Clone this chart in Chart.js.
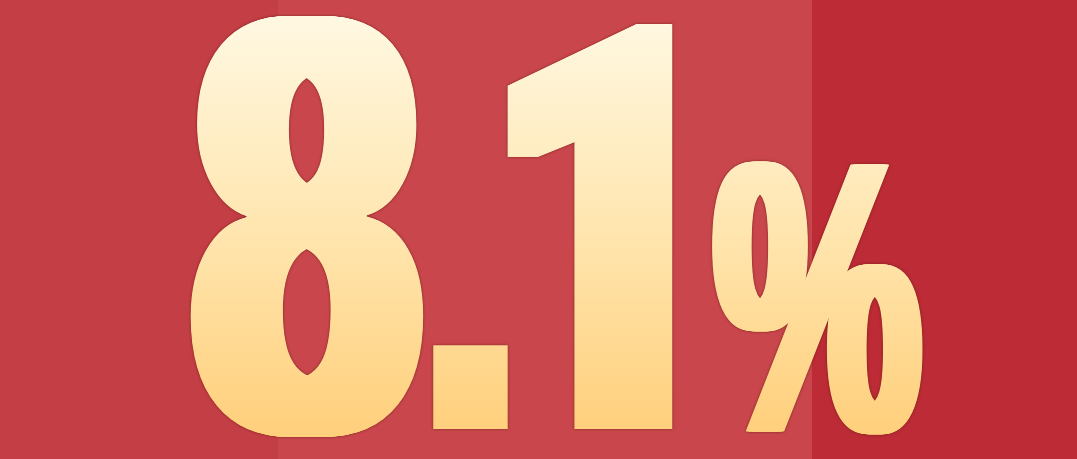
<!DOCTYPE html>
<html>
<head>
<meta charset="utf-8">
<script src="https://cdn.jsdelivr.net/npm/chart.js@4.4.1/dist/chart.umd.min.js"></script>
<style>
  html, body { margin: 0; padding: 0; background: #c23c43; }
  #wrap { width: 1077px; height: 459px; position: relative; }
</style>
</head>
<body>
<div id="wrap"><canvas id="myChart"></canvas></div>
<script>
// headline value
let values = [8.1];
let units = ['%'];

// background bands (x range on a 0..1077 scale)
let bandStarts = [0, 278, 812];
let bandEnds = [278, 812, 1077];
let bandColors = ['#c43e45', '#c9474c', '#bc2b36'];

// glyph boxes in scale units: [x0, x1, y0, y1, horizontal thickening]
let glyphBoxes = {
    '8': [190, 425, 15, 437, 36],
    '.': [432, 508, 345, 429, 0],
    '1': [507, 673, 22, 429, 30],
    '%': [711, 923, 160, 435, 15]
};
let glyphFonts = {
    '8': 'bold 200px "Liberation Sans", sans-serif',
    '.': 'bold 200px "Liberation Sans", sans-serif',
    '1': '900 200px Roboto, sans-serif',
    '%': 'bold 200px "Liberation Sans", sans-serif'
};

let bandSets = bandStarts.map(function (s, i) {
    return {
        data: [{ x: s, y: 1 }, { x: bandEnds[i], y: 1 }],
        fill: 'origin',
        backgroundColor: bandColors[i],
        borderWidth: 0,
        pointRadius: 0
    };
});

let bigText = {
    id: 'bigText',
    afterDatasetsDraw: function (chart) {
        let ctx = chart.ctx;
        let xs = chart.scales.x;
        let dpr = chart.currentDevicePixelRatio || 1;
        let text = values[0].toFixed(1) + units[0];
        let top = chart.chartArea.top;
        let h = chart.chartArea.bottom - chart.chartArea.top;
        let py = function (v) { return top + v / 459 * h; };

        let off = document.createElement('canvas');
        off.width = chart.canvas.width;
        off.height = chart.canvas.height;
        let octx = off.getContext('2d');
        octx.setTransform(dpr, 0, 0, dpr, 0, 0);
        octx.textAlign = 'left';
        octx.textBaseline = 'alphabetic';
        octx.fillStyle = '#000';

        for (let ch of text) {
            let b = glyphBoxes[ch];
            if (!b) continue;
            octx.font = glyphFonts[ch];
            let x0 = xs.getPixelForValue(b[0]);
            let x1 = xs.getPixelForValue(b[1]);
            let y0 = py(b[2]);
            let y1 = py(b[3]);
            let d = b[4];

            let m = octx.measureText(ch);
            let gw = m.actualBoundingBoxLeft + m.actualBoundingBoxRight;
            let gh = m.actualBoundingBoxAscent + m.actualBoundingBoxDescent;
            let sx = (x1 - x0 - d) / gw;
            let sy = (y1 - y0) / gh;

            let steps = Math.max(1, Math.ceil(d * 2));
            for (let k = 0; k <= steps; k++) {
                let dx = d * k / steps;
                octx.save();
                octx.translate(x0 + dx, y0);
                octx.scale(sx, sy);
                octx.fillText(ch, m.actualBoundingBoxLeft, m.actualBoundingBoxAscent);
                octx.restore();
            }
        }

        // colour the glyphs with the cream to gold gradient
        let g = octx.createLinearGradient(0, py(15), 0, py(437));
        g.addColorStop(0, '#fff8e2');
        g.addColorStop(0.5, '#ffe6b0');
        g.addColorStop(1, '#ffcf7b');
        octx.globalCompositeOperation = 'source-in';
        octx.fillStyle = g;
        octx.fillRect(0, 0, chart.width, chart.height);

        ctx.save();
        ctx.setTransform(1, 0, 0, 1, 0, 0);
        ctx.shadowColor = 'rgba(100, 25, 15, 0.7)';
        ctx.shadowBlur = 3 * dpr;
        ctx.drawImage(off, 0, 0);
        ctx.restore();
    }
};

let mychart = document.getElementById('myChart').getContext('2d');

let chart = new Chart(mychart, {
    type: 'line',
    data: {
        datasets: bandSets
    },
    options: {
        responsive: true,
        maintainAspectRatio: false,
        animation: false,
        layout: { padding: 0 },
        scales: {
            x: { type: 'linear', min: 0, max: 1077, display: false },
            y: { type: 'linear', min: 0, max: 1, display: false }
        },
        plugins: {
            legend: { display: false },
            tooltip: { enabled: false }
        }
    },
    plugins: [bigText]
});
</script>
</body>
</html>
